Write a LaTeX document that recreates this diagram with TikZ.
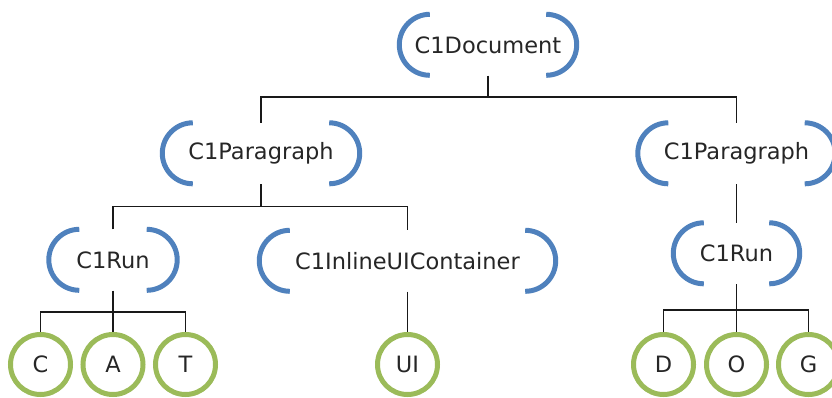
\documentclass[tikz,border=0pt]{standalone}
\usepackage{fontspec}
\setmainfont{DejaVu Sans}
\definecolor{brblue}{RGB}{79,129,189}
\definecolor{cgreen}{RGB}{155,187,89}
\tikzset{
  bnode/.style={inner sep=0pt, minimum height=61pt, text=black!85,
    font=\fontsize{22.5}{27}\selectfont},
  bracket/.style={draw=brblue, line width=5pt},
  leaf/.style={circle, draw=cgreen, line width=5pt, minimum size=60pt, inner sep=0pt,
    text=black!85, font=\fontsize{22.5}{27}\selectfont},
  conn/.style={draw=black!90, line width=1.5pt}
}
\newcommand{\brk}[1]{%
  \draw[bracket] ([xshift=30.5pt]#1.north west) arc[start angle=90,end angle=270,radius=30.5pt];
  \draw[bracket] ([xshift=-30.5pt]#1.north east) arc[start angle=90,end angle=-90,radius=30.5pt];
}
\begin{document}
\begin{tikzpicture}[x=1pt,y=-1pt]
\useasboundingbox (0,0) rectangle (832,397);
% bracket nodes
\node[bnode, minimum width=177pt] (doc) at (488,45) {C1Document};
\node[bnode, minimum width=197pt] (par1) at (261,153.5) {C1Paragraph};
\node[bnode, minimum width=197pt] (par2) at (736.5,153.5) {C1Paragraph};
\node[bnode, minimum width=128pt] (run1) at (113,260) {C1Run};
\node[bnode, minimum width=296pt] (inl) at (407.5,261) {C1InlineUIContainer};
\node[bnode, minimum width=126pt] (run2) at (736.5,253.5) {C1Run};
\brk{doc}\brk{par1}\brk{par2}\brk{run1}\brk{inl}\brk{run2}
% leaves
\node[leaf] (c) at (40.5,364.5) {C};
\node[leaf] (a) at (113,364.5) {A};
\node[leaf] (t) at (185.5,364.5) {T};
\node[leaf] (ui) at (407.5,364.5) {UI};
\node[leaf] (d) at (663.5,364.5) {D};
\node[leaf] (o) at (736.5,364.5) {O};
\node[leaf] (g) at (808.5,364.5) {G};
% bus coordinates
\coordinate (b1) at (488,97);
\coordinate (b2) at (261,206.5);
\coordinate (b3) at (113,312);
\coordinate (b4) at (736.5,310);
% connectors
\draw[conn] (doc.south) -- (b1);
\draw[conn] (par1.north) |- (b1) -| (par2.north);
\draw[conn] (par1.south) -- (b2);
\draw[conn] (run1.north) |- (b2) -| (inl.north);
\draw[conn] (run1.south) -- (b3);
\draw[conn] (c.north) |- (b3) -| (t.north);
\draw[conn] (b3) -- (a.north);
\draw[conn] (inl.south) -- (ui.north);
\draw[conn] (par2.south) -- (run2.north);
\draw[conn] (run2.south) -- (b4);
\draw[conn] (d.north) |- (b4) -| (g.north);
\draw[conn] (b4) -- (o.north);
\end{tikzpicture}
\end{document}
